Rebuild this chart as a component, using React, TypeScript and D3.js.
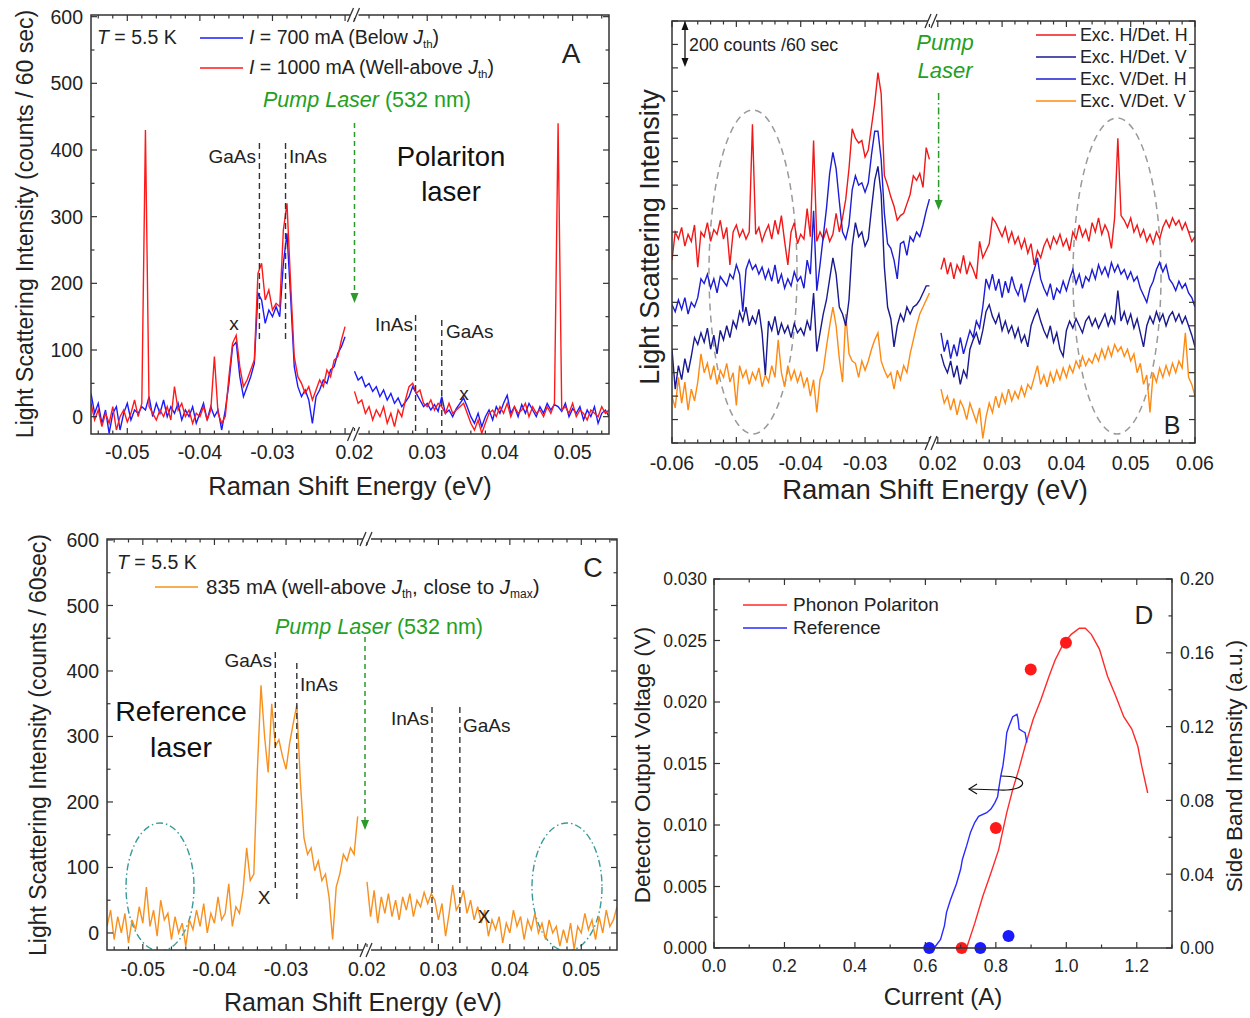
import React from 'react';
import * as d3 from 'd3';

const FONT = '"Liberation Sans", Arial, Helvetica, sans-serif';
const INK = '#222';
const AXIS = '#333';
const STEP = 0.0005; // spectra are sampled every 0.5 meV

// ---------- Panel A: polariton laser (counts / 60 sec) ----------
const aLeftStart = -0.055;
const aRightStart = 0.02;
const aBlueLeft = [
  35, 5, 20, -10, 10, -25, 5, 15, -20, 5,
  20, -5, 10, 5, 15, 10, 30, 0, 20, 5,
  25, 0, 15, 5, 20, -5, 10, 0, 15, -10,
  5, 20, -5, 15, 0, 10, -20, 10, 50, 105,
  112, 60, 30, 45, 60, 80, 185, 175, 140, 160,
  150, 165, 150, 230, 275, 180, 75, 45, 30, 40,
  25, -10, 30, 40, 55, 50, 70, 75, 95, 105,
  120,
];
const aRedLeft = [
  20, -5, 10, -15, 5, -10, 15, -20, 0, 10,
  -8, 5, 25, 0, 20, 430, 15, 5, -5, 10,
  0, 15, -5, 45, 10, 20, 0, 10, -10, 5,
  0, 15, -5, 10, 90, 5, -10, 0, 60, 110,
  122, 75, 45, 55, 70, 85, 215, 230, 175, 190,
  160, 170, 165, 280, 320, 200, 90, 60, 50, 35,
  45, 25, 40, 55, 45, 70, 60, 85, 90, 115,
  135,
];
const aBlueRight = [
  68, 55, 60, 45, 50, 38, 45, 30, 40, 25,
  35, 20, 28, 15, 22, 30, 45, 35, 25, 15,
  20, 10, 18, 8, 30, 5, 10, 0, 12, 20,
  28, 15, 0, -10, 5, -15, 0, 10, -5, 15,
  5, 20, 32, 5, 15, 0, 18, 5, 20, 10,
  0, 15, 5, 20, 10, 18, 15, 8, 20, 0,
  12, 5, 15, -5, 10, 0, 15, -10, 5, 10,
  0,
];
const aRedRight = [
  38, 20, 25, 5, 15, -5, 10, 0, 15, -10,
  5, -15, 10, 0, 25, 45, 50, 35, 40, 20,
  15, 25, 10, 20, 15, 5, 20, 5, 10, 15,
  20, 5, -10, -20, -5, -25, -10, 5, 10, 0,
  15, 5, 20, 0, 15, 5, 10, 20, 0, 15,
  5, 10, 0, 15, 5, 20, 440, 10, 15, 5,
  20, 0, 10, 5, -5, 10, 5, 0, 15, 5,
  10,
];
const aPhononLeft = [-0.0318, -0.0282]; // GaAs, InAs
const aPhononRight = [0.0284, 0.032]; // InAs, GaAs

// ---------- Panel B: polarisation resolved (offset counts) ----------
const bLeftStart = -0.06;
const bRightStart = 0.0205;
const bRedLeft = [
  780, 900, 870, 920, 840, 890, 860, 930, 750, 900,
  880, 940, 860, 910, 890, 950, 870, 920, 760, 900,
  930, 880, 910, 870, 900, 1360, 890, 920, 860, 900,
  930, 870, 950, 890, 970, 860, 760, 900, 940, 850,
  890, 870, 1000, 880, 1290, 860, 900, 870, 910, 860,
  890, 980, 900, 960, 1040, 1170, 1340, 1300, 1280, 1290,
  1220, 1250, 1350, 1450, 1580, 1490, 1140, 1100, 1050, 1010,
  950, 970, 980, 1020, 1060, 1140, 1120, 1150, 1090, 1260,
  1210,
];
const bBlueLeft = [
  590, 560, 610, 570, 620, 550, 600, 580, 620, 700,
  680, 720, 660, 700, 640, 710, 690, 670, 720, 700,
  760, 720, 560, 740, 780, 740, 760, 720, 750, 700,
  740, 690, 760, 680, 720, 660, 700, 670, 730, 690,
  710, 660, 780, 720, 990, 650, 760, 880, 1000, 1150,
  1240, 1170, 1030, 900, 870, 930, 1080, 1140, 1100, 1110,
  1070, 1110, 1230, 1330, 1330, 1210, 980, 850, 830, 780,
  700, 850, 860, 800, 880, 860, 900, 880, 930, 990,
  1040,
];
const bNavyLeft = [
  400, 230, 330, 270, 360, 300, 370, 450, 420, 470,
  430, 490, 400, 460, 380, 480, 440, 500, 450, 520,
  490, 560, 520, 580, 500, 540, 510, 570, 470, 290,
  520, 480, 540, 460, 510, 470, 500, 450, 510, 470,
  490, 460, 520, 480, 640, 390, 470, 550, 610, 700,
  790, 720, 580, 550, 500, 610, 840, 940, 880, 900,
  840, 870, 1000, 1120, 1180, 1060, 750, 580, 530, 410,
  500, 550, 520, 580, 550, 580, 590, 610, 640, 670,
  670,
];
const bOrangeLeft = [
  200, 150, 280, 170, 260, 140, 230, 180, 260, 380,
  300, 340, 270, 330, 250, 310, 280, 340, 260, 300,
  160, 330, 280, 310, 250, 300, 270, 320, 240, 290,
  260, 330, 280, 440, 300, 240, 330, 270, 310, 260,
  300, 240, 280, 200, 270, 130, 270, 310, 410, 500,
  580, 500, 360, 260, 550, 380, 350, 340, 280, 350,
  310, 350, 400, 440, 470, 350, 310, 280, 300, 230,
  310, 270, 330, 300, 380, 440, 500, 550, 580, 610,
  640,
];
const bRedRight = [
  740, 790, 720, 770, 700, 760, 730, 800, 720, 770,
  740, 700, 860, 790, 820, 850, 960, 940, 910, 880,
  920, 860, 900, 850, 880, 830, 870, 810, 850, 760,
  820, 790, 840, 870, 830, 880, 850, 890, 840, 870,
  820, 900, 870, 930, 880, 910, 860, 940, 900, 960,
  890, 930, 900, 830, 960, 1300, 970, 950, 920, 960,
  900, 930, 880, 910, 860, 890, 850, 900, 870, 920,
  950, 920, 960, 930, 950, 910, 940, 900, 860, 880,
];
const bBlueRight = [
  470, 390, 440, 360, 420, 370, 450, 380, 430, 480,
  450, 520, 490, 580, 700, 660, 720, 650, 700, 620,
  690, 640, 710, 660, 630, 680, 600, 650, 700, 740,
  790, 700, 660, 630, 680, 610, 660, 640, 690, 650,
  700, 740, 680, 720, 660, 710, 690, 740, 700, 760,
  720, 750, 710, 770, 730, 760, 720, 740, 700, 730,
  690, 710, 660, 630, 600, 660, 690, 740, 770, 730,
  760, 700, 680, 650, 690, 660, 680, 640, 620, 580,
];
const bNavyRight = [
  380, 330, 300, 350, 280, 330, 250, 310, 280, 400,
  440, 470, 420, 480, 560, 590, 540, 510, 550, 480,
  520, 470, 500, 450, 490, 430, 460, 410, 500, 540,
  570, 520, 480, 450, 500, 430, 470, 400, 370, 480,
  520, 490, 530, 500, 470, 520, 540, 500, 530, 490,
  520, 550, 500, 540, 510, 650, 520, 560, 510, 550,
  490, 530, 470, 410, 500, 540, 510, 560, 520, 550,
  500, 540, 560, 520, 550, 510, 540, 500, 460, 410,
];
const bOrangeRight = [
  230, 170, 200, 140, 190, 120, 180, 150, 100, 170,
  130, 90, 150, 20, 110, 170, 130, 200, 150, 210,
  170, 230, 180, 220, 190, 240, 200, 250, 230, 280,
  330, 250, 290, 240, 300, 260, 310, 270, 320, 280,
  330, 300, 350, 320, 370, 330, 360, 340, 380, 350,
  400, 360, 410, 370, 420, 390, 410, 370, 400, 350,
  380, 300, 340, 250, 290, 130, 300, 260, 320, 280,
  330, 290, 340, 300, 350, 320, 470, 280, 250, 200,
];
const bLegend = ['Exc. H/Det. H', 'Exc. H/Det. V', 'Exc. V/Det. H', 'Exc. V/Det. V'];
const bColors = ['#f01818', '#1a1a90', '#1c1cd6', '#ff8a12'];

// ---------- Panel C: reference laser (counts / 60 sec) ----------
const cLeftStart = -0.055;
const cRightStart = 0.02;
const cOrangeLeft = [
  10, 35, -10, 25, 0, 30, -15, 20, 5, 40,
  15, 70, 10, 35, -5, 50, 20, 30, -10, 25,
  0, 15, -20, 20, 5, 35, 10, 45, 0, 30,
  15, 55, 20, 30, 75, 10, 40, 30, 65, 130,
  80, 90, 250, 378, 300, 245, 350, 285, 295, 270,
  250, 290, 320, 348, 230, 145, 120, 130, 95, 110,
  80, 90, 55, -10, 70, 90, 120, 110, 130, 120,
  178,
];
const cOrangeRight = [
  78, 25, 65, 15, 55, 30, 60, 25, 50, 20,
  55, 35, 60, 25, 50, 40, 62, 45, 60, 50,
  20, 45, -5, 30, 73, 35, 45, 65, 30, 50,
  20, 40, 15, 35, -5, 20, 5, 25, -15, 15,
  0, 35, 10, 25, -10, 20, 5, 30, 0, 15,
  -10, 20, 0, 10, -20, 5, -15, 15, -25, 10,
  0, 30, 5, 20, -10, 25, 0, 35, 10, 20,
  40,
];
const cPhononLeft = [-0.0315, -0.0285];
const cPhononRight = [0.0291, 0.033];

// ---------- Panel D: detector voltage / side band vs current ----------
const dPolCurrent = [0, 0.717, 0.74, 0.763, 0.786, 0.808, 0.831, 0.848, 0.866, 0.883, 0.906, 0.928, 0.951, 0.968, 0.991, 1.014, 1.037, 1.054, 1.071, 1.094, 1.117, 1.14, 1.163, 1.186, 1.203, 1.214, 1.231];
const dPolVolt = [0, 0, 0.002, 0.0042, 0.0061, 0.008, 0.011, 0.0129, 0.0146, 0.0164, 0.0186, 0.0202, 0.0221, 0.0234, 0.0247, 0.0255, 0.026, 0.026, 0.0255, 0.0243, 0.0221, 0.0205, 0.0188, 0.0178, 0.0164, 0.0148, 0.0126];
const dRefCurrent = [0, 0.625, 0.643, 0.654, 0.66, 0.671, 0.688, 0.7, 0.705, 0.717, 0.728, 0.74, 0.751, 0.774, 0.786, 0.797, 0.805, 0.808, 0.814, 0.82, 0.826, 0.831, 0.837, 0.848, 0.86, 0.863, 0.866, 0.877, 0.883, 0.888];
const dRefVolt = [0, 0, 0.0007, 0.0018, 0.0029, 0.0039, 0.0052, 0.0064, 0.0072, 0.0083, 0.0094, 0.0102, 0.0107, 0.011, 0.0113, 0.0118, 0.0123, 0.0129, 0.014, 0.0148, 0.0161, 0.0175, 0.018, 0.0188, 0.019, 0.0186, 0.0178, 0.0176, 0.0175, 0.0167];
const dPolDotI = [0.703, 0.8, 0.899, 0.999];
const dPolDotS = [0, 0.065, 0.151, 0.1655];
const dRefDotI = [0.611, 0.756, 0.836];
const dRefDotS = [0, 0, 0.0065];

type Lin = d3.ScaleLinear<number, number>;

const specPath = (start: number, vals: number[], x: Lin, y: Lin) =>
  d3.line<number>().x((_, i) => x(start + i * STEP)).y((d) => y(d))(vals) ?? '';

const isMajor = (v: number, m: number) => Math.abs(v / m - Math.round(v / m)) < 1e-6;

function Frame({ x0, x1, y0, y1 }: { x0: number; x1: number; y0: number; y1: number }) {
  return <rect x={x0} y={y0} width={x1 - x0} height={y1 - y0} fill="none" stroke={AXIS} strokeWidth={1.5} />;
}

function BreakMark({ x, y }: { x: number; y: number }) {
  return (
    <g>
      <rect x={x - 4} y={y - 3} width={8} height={6} fill="white" />
      <line x1={x - 7} y1={y + 7} x2={x - 1} y2={y - 7} stroke={AXIS} strokeWidth={1.3} />
      <line x1={x - 1} y1={y + 7} x2={x + 5} y2={y - 7} stroke={AXIS} strokeWidth={1.3} />
    </g>
  );
}

function BrokenXTicks(props: {
  xl: Lin; xr: Lin; left: number[]; right: number[]; y0: number; y1: number;
  labelY: number; fs: number; labels: number[];
}) {
  const { xl, xr, left, right, y0, y1, labelY, fs, labels } = props;
  const all: [number, number][] = [...left.map((v) => [v, xl(v)] as [number, number]), ...right.map((v) => [v, xr(v)] as [number, number])];
  return (
    <g>
      {all.map(([v, x], i) => {
        const mj = isMajor(v, 0.01);
        const len = mj ? 6 : 3.5;
        const lab = mj && labels.some((l) => Math.abs(l - v) < 1e-6);
        return (
          <g key={i}>
            <line x1={x} x2={x} y1={y1} y2={y1 - len} stroke={AXIS} strokeWidth={1.2} />
            <line x1={x} x2={x} y1={y0} y2={y0 + len} stroke={AXIS} strokeWidth={1.2} />
            {lab && (
              <text x={x} y={labelY} textAnchor="middle" fontSize={fs} fill={INK}>{v.toFixed(2)}</text>
            )}
          </g>
        );
      })}
    </g>
  );
}

function YTicks(props: {
  y: Lin; values: number[]; x0: number; x1: number; major: number;
  fs?: number; labelX?: number; digits?: number; both?: boolean;
}) {
  const { y, values, x0, x1, major, fs, labelX, digits, both = true } = props;
  return (
    <g>
      {values.map((v, i) => {
        const yy = y(v);
        const mj = isMajor(v, major);
        const len = mj ? 6 : 3.5;
        return (
          <g key={i}>
            <line x1={x0} x2={x0 + len} y1={yy} y2={yy} stroke={AXIS} strokeWidth={1.2} />
            {both && <line x1={x1} x2={x1 - len} y1={yy} y2={yy} stroke={AXIS} strokeWidth={1.2} />}
            {mj && fs && labelX !== undefined && (
              <text x={labelX} y={yy} dy="0.36em" textAnchor="end" fontSize={fs} fill={INK}>
                {digits ? v.toFixed(digits) : String(v)}
              </text>
            )}
          </g>
        );
      })}
    </g>
  );
}

function DownArrow({ x, y1, y2, color, dash }: { x: number; y1: number; y2: number; color: string; dash: string }) {
  return (
    <g>
      <line x1={x} x2={x} y1={y1} y2={y2 - 8} stroke={color} strokeWidth={1.5} strokeDasharray={dash} />
      <polygon points={`${x - 4},${y2 - 10} ${x + 4},${y2 - 10} ${x},${y2}`} fill={color} />
    </g>
  );
}

export default function App() {
  // ----- Panel A scales -----
  const aY = d3.scaleLinear().domain([-26, 602.5]).range([434, 15]);
  const aXl = d3.scaleLinear().domain([-0.055, -0.0187]).range([91, 354.5]);
  const aXr = d3.scaleLinear().domain([0.02, 0.055]).range([354.5, 609]);
  const brokenLeftTicks = d3.range(-27, -9).map((k) => +(k * 0.002).toFixed(3));
  const brokenRightTicks = d3.range(10, 28).map((k) => +(k * 0.002).toFixed(3));
  const countTicks = d3.range(0, 601, 50);
  const xLabels = [-0.05, -0.04, -0.03, 0.02, 0.03, 0.04, 0.05];

  // ----- Panel B scales -----
  const bY = d3.scaleLinear().domain([0, 1800]).range([443, 21]);
  const bXl = d3.scaleLinear().domain([-0.06, -0.0196]).range([672, 932]);
  const bXr = d3.scaleLinear().domain([0.0191, 0.06]).range([932, 1195]);
  const bLeftTicks = d3.range(-30, -9).map((k) => +(k * 0.002).toFixed(3));
  const bRightTicks = d3.range(10, 31).map((k) => +(k * 0.002).toFixed(3));
  const bLabels = [-0.06, -0.05, -0.04, -0.03, 0.02, 0.03, 0.04, 0.05, 0.06];
  const bLeftSeries = [bRedLeft, bNavyLeft, bBlueLeft, bOrangeLeft];
  const bRightSeries = [bRedRight, bNavyRight, bBlueRight, bOrangeRight];

  // ----- Panel C scales -----
  const cY = d3.scaleLinear().domain([-26, 601.5]).range([950, 539]);
  const cXl = d3.scaleLinear().domain([-0.055, -0.0187]).range([107, 367]);
  const cXr = d3.scaleLinear().domain([0.02, 0.055]).range([367, 617]);

  // ----- Panel D scales -----
  const dX = d3.scaleLinear().domain([0, 1.3]).range([714, 1172]);
  const dYl = d3.scaleLinear().domain([0, 0.03]).range([948, 579]);
  const dYr = d3.scaleLinear().domain([0, 0.2]).range([948, 579]);
  const dLine = d3.line<number>();
  const polPath = dLine(dPolCurrent.map((c, i) => [dX(c), dYl(dPolVolt[i])] as [number, number]) as any) ?? '';
  const refPath = dLine(dRefCurrent.map((c, i) => [dX(c), dYl(dRefVolt[i])] as [number, number]) as any) ?? '';

  const green = '#22a022';

  return (
    <svg width={1250} height={1018} style={{ position: 'absolute', left: 0, top: 0, background: 'white' }} fontFamily={FONT}>
      <defs>
        <clipPath id="clipA"><rect x={91} y={15} width={518} height={419} /></clipPath>
        <clipPath id="clipB"><rect x={672} y={21} width={523} height={422} /></clipPath>
        <clipPath id="clipC"><rect x={107} y={539} width={510} height={411} /></clipPath>
        <clipPath id="clipD"><rect x={714} y={579} width={458} height={369} /></clipPath>
      </defs>

      {/* ================= Panel A ================= */}
      <g clipPath="url(#clipA)">
        <path d={specPath(aLeftStart, aBlueLeft, aXl, aY)} fill="none" stroke="#1a1aff" strokeWidth={1.4} />
        <path d={specPath(aRightStart, aBlueRight, aXr, aY)} fill="none" stroke="#1a1aff" strokeWidth={1.4} />
        <path d={specPath(aLeftStart, aRedLeft, aXl, aY)} fill="none" stroke="#ff1a1a" strokeWidth={1.4} />
        <path d={specPath(aRightStart, aRedRight, aXr, aY)} fill="none" stroke="#ff1a1a" strokeWidth={1.4} />
      </g>
      {aPhononLeft.map((v, i) => (
        <line key={'apl' + i} x1={aXl(v)} x2={aXl(v)} y1={143} y2={341} stroke="#333" strokeWidth={1.4} strokeDasharray="6,4" />
      ))}
      {aPhononRight.map((v, i) => (
        <line key={'apr' + i} x1={aXr(v)} x2={aXr(v)} y1={i === 0 ? 315 : 320} y2={433} stroke="#333" strokeWidth={1.4} strokeDasharray="6,4" />
      ))}
      <DownArrow x={354.5} y1={123} y2={303} color="#2a9a2a" dash="5,4" />
      <Frame x0={91} x1={609} y0={15} y1={434} />
      <BrokenXTicks xl={aXl} xr={aXr} left={brokenLeftTicks} right={brokenRightTicks} y0={15} y1={434} labelY={459} fs={19.5} labels={xLabels} />
      <YTicks y={aY} values={countTicks} x0={91} x1={609} major={100} fs={19.5} labelX={83} />
      <BreakMark x={354.5} y={15} />
      <BreakMark x={354.5} y={434} />
      <text x={97} y={44} fontSize={19.5} fill={INK}><tspan fontStyle="italic">T</tspan>{' = 5.5 K'}</text>
      <line x1={200} x2={243} y1={38} y2={38} stroke="#1a1aff" strokeWidth={1.6} />
      <text x={249} y={44} fontSize={19.5} fill={INK}>
        <tspan fontStyle="italic">I</tspan>{' = 700 mA (Below '}<tspan fontStyle="italic">J</tspan>
        <tspan fontSize={11.5} dy={4}>th</tspan><tspan dy={-4}>)</tspan>
      </text>
      <line x1={200} x2={243} y1={68} y2={68} stroke="#ff1a1a" strokeWidth={1.6} />
      <text x={249} y={74} fontSize={19.5} fill={INK}>
        <tspan fontStyle="italic">I</tspan>{' = 1000 mA (Well-above '}<tspan fontStyle="italic">J</tspan>
        <tspan fontSize={11.5} dy={4}>th</tspan><tspan dy={-4}>)</tspan>
      </text>
      <text x={571} y={63} fontSize={28} textAnchor="middle" fill={INK}>A</text>
      <text x={367} y={107} fontSize={21.5} textAnchor="middle" fill={green}>
        <tspan fontStyle="italic">Pump Laser</tspan>{' (532 nm)'}
      </text>
      <text x={256} y={163} fontSize={19} textAnchor="end" fill={INK}>GaAs</text>
      <text x={289} y={163} fontSize={19} fill={INK}>InAs</text>
      <text x={234} y={330} fontSize={19} textAnchor="middle" fill={INK}>x</text>
      <text x={413} y={331} fontSize={19} textAnchor="end" fill={INK}>InAs</text>
      <text x={446} y={338} fontSize={19} fill={INK}>GaAs</text>
      <text x={464} y={400} fontSize={19} textAnchor="middle" fill={INK}>x</text>
      <text x={451} y={166} fontSize={27.5} textAnchor="middle" fill="#111">Polariton</text>
      <text x={451} y={201} fontSize={27.5} textAnchor="middle" fill="#111">laser</text>
      <text transform="translate(33,224) rotate(-90)" textAnchor="middle" fontSize={23} fill={INK}>
        Light Scattering Intensity (counts / 60 sec)
      </text>
      <text x={350} y={495} textAnchor="middle" fontSize={25.5} fill={INK}>Raman Shift Energy (eV)</text>

      {/* ================= Panel B ================= */}
      <ellipse cx={753} cy={272} rx={44} ry={162} fill="none" stroke="#9a9a9a" strokeWidth={1.5} strokeDasharray="7,5" />
      <ellipse cx={1117} cy={276} rx={44} ry={158} fill="none" stroke="#9a9a9a" strokeWidth={1.5} strokeDasharray="7,5" />
      <g clipPath="url(#clipB)">
        {[3, 0, 1, 2].map((k) => (
          <g key={'bs' + k}>
            <path d={specPath(bLeftStart, bLeftSeries[k], bXl, bY)} fill="none" stroke={bColors[k]} strokeWidth={1.4} />
            <path d={specPath(bRightStart, bRightSeries[k], bXr, bY)} fill="none" stroke={bColors[k]} strokeWidth={1.4} />
          </g>
        ))}
      </g>
      <g>
        <line x1={938.6} x2={938.6} y1={93} y2={202} stroke="#2a9a2a" strokeWidth={1.5} strokeDasharray="7,3,1.5,3" />
        <polygon points={`934.6,200 942.6,200 938.6,210`} fill="#2a9a2a" />
      </g>
      <Frame x0={672} x1={1195} y0={21} y1={443} />
      <BrokenXTicks xl={bXl} xr={bXr} left={bLeftTicks} right={bRightTicks} y0={21} y1={443} labelY={470} fs={19.5} labels={bLabels} />
      <YTicks y={bY} values={d3.range(0, 1801, 100)} x0={672} x1={1195} major={100} />
      <BreakMark x={932} y={21} />
      <BreakMark x={932} y={443} />
      <line x1={685} x2={685} y1={26} y2={62} stroke="#111" strokeWidth={1.3} />
      <polygon points="681.5,30 688.5,30 685,21" fill="#111" />
      <polygon points="681.5,58 688.5,58 685,67" fill="#111" />
      <text x={689} y={51} fontSize={17.8} fill={INK}>200 counts /60 sec</text>
      <text x={945} y={50} fontSize={22} textAnchor="middle" fontStyle="italic" fill={green}>Pump</text>
      <text x={945} y={78} fontSize={22} textAnchor="middle" fontStyle="italic" fill={green}>Laser</text>
      {bLegend.map((name, i) => (
        <g key={'bl' + i}>
          <line x1={1036} x2={1076} y1={35 + i * 22} y2={35 + i * 22} stroke={bColors[i]} strokeWidth={1.6} />
          <text x={1080} y={41 + i * 22} fontSize={17.8} fill={INK}>{name}</text>
        </g>
      ))}
      <text x={1172} y={434} fontSize={25} textAnchor="middle" fill={INK}>B</text>
      <text transform="translate(659,237) rotate(-90)" textAnchor="middle" fontSize={27} fill={INK}>
        Light Scattering Intensity
      </text>
      <text x={935} y={499} textAnchor="middle" fontSize={27.5} fill={INK}>Raman Shift Energy (eV)</text>

      {/* ================= Panel C ================= */}
      <g clipPath="url(#clipC)">
        <ellipse cx={160} cy={887} rx={34} ry={64} fill="none" stroke="#3a9a9a" strokeWidth={1.4} strokeDasharray="7,3,1.5,3" />
        <ellipse cx={567} cy={887} rx={35} ry={64} fill="none" stroke="#3a9a9a" strokeWidth={1.4} strokeDasharray="7,3,1.5,3" />
        <path d={specPath(cLeftStart, cOrangeLeft, cXl, cY)} fill="none" stroke="#f7901e" strokeWidth={1.4} />
        <path d={specPath(cRightStart, cOrangeRight, cXr, cY)} fill="none" stroke="#f7901e" strokeWidth={1.4} />
      </g>
      {cPhononLeft.map((v, i) => (
        <line key={'cpl' + i} x1={cXl(v)} x2={cXl(v)} y1={i === 0 ? 652 : 663} y2={i === 0 ? 889 : 899} stroke="#333" strokeWidth={1.4} strokeDasharray="6,4" />
      ))}
      {cPhononRight.map((v, i) => (
        <line key={'cpr' + i} x1={cXr(v)} x2={cXr(v)} y1={707} y2={946} stroke="#333" strokeWidth={1.4} strokeDasharray="6,4" />
      ))}
      <DownArrow x={365} y1={637} y2={830} color="#2a9a2a" dash="5,4" />
      <Frame x0={107} x1={617} y0={539} y1={950} />
      <BrokenXTicks xl={cXl} xr={cXr} left={brokenLeftTicks} right={brokenRightTicks} y0={539} y1={950} labelY={976} fs={19.5} labels={xLabels} />
      <YTicks y={cY} values={countTicks} x0={107} x1={617} major={100} fs={19.5} labelX={99} />
      <BreakMark x={367} y={539} />
      <BreakMark x={367} y={950} />
      <text x={117} y={569} fontSize={19.5} fill={INK}><tspan fontStyle="italic">T</tspan>{' = 5.5 K'}</text>
      <line x1={155} x2={198} y1={587} y2={587} stroke="#f7901e" strokeWidth={1.6} />
      <text x={206} y={594} fontSize={20.5} fill={INK}>
        {'835 mA (well-above '}<tspan fontStyle="italic">J</tspan>
        <tspan fontSize={12} dy={4}>th</tspan><tspan dy={-4}>{', close to '}</tspan><tspan fontStyle="italic">J</tspan>
        <tspan fontSize={12} dy={4}>max</tspan><tspan dy={-4}>)</tspan>
      </text>
      <text x={593} y={577} fontSize={27} textAnchor="middle" fill={INK}>C</text>
      <text x={379} y={634} fontSize={21.5} textAnchor="middle" fill={green}>
        <tspan fontStyle="italic">Pump Laser</tspan>{' (532 nm)'}
      </text>
      <text x={272} y={667} fontSize={19} textAnchor="end" fill={INK}>GaAs</text>
      <text x={300} y={691} fontSize={19} fill={INK}>InAs</text>
      <text x={429} y={725} fontSize={19} textAnchor="end" fill={INK}>InAs</text>
      <text x={463} y={732} fontSize={19} fill={INK}>GaAs</text>
      <text x={264} y={904} fontSize={19} textAnchor="middle" fill={INK}>X</text>
      <text x={484} y={923} fontSize={19} textAnchor="middle" fill={INK}>X</text>
      <text x={181} y={721} fontSize={28.5} textAnchor="middle" fill="#111">Reference</text>
      <text x={181} y={757} fontSize={28.5} textAnchor="middle" fill="#111">laser</text>
      <text transform="translate(46,745) rotate(-90)" textAnchor="middle" fontSize={23} fill={INK}>
        Light Scattering Intensity (counts / 60sec)
      </text>
      <text x={363} y={1011} textAnchor="middle" fontSize={25} fill={INK}>Raman Shift Energy (eV)</text>

      {/* ================= Panel D ================= */}
      <g clipPath="url(#clipD)">
        <path d={polPath} fill="none" stroke="#ff2a2a" strokeWidth={1.4} />
        <path d={refPath} fill="none" stroke="#2a2aff" strokeWidth={1.4} />
      </g>
      {dPolDotI.map((c, i) => (
        <circle key={'dp' + i} cx={dX(c)} cy={dYr(dPolDotS[i])} r={6} fill="#ff1a1a" />
      ))}
      {dRefDotI.map((c, i) => (
        <circle key={'dr' + i} cx={dX(c)} cy={dYr(dRefDotS[i])} r={6} fill="#1a1aff" />
      ))}
      <Frame x0={714} x1={1172} y0={579} y1={948} />
      {d3.range(0, 14).map((k) => {
        const v = k / 10;
        const x = dX(v);
        const mj = k % 2 === 0;
        const len = mj ? 6 : 3.5;
        return (
          <g key={'dxt' + k}>
            <line x1={x} x2={x} y1={948} y2={948 - len} stroke={AXIS} strokeWidth={1.2} />
            <line x1={x} x2={x} y1={579} y2={579 + len} stroke={AXIS} strokeWidth={1.2} />
            {mj && k <= 12 && (
              <text x={x} y={972} textAnchor="middle" fontSize={17.5} fill={INK}>{v.toFixed(1)}</text>
            )}
          </g>
        );
      })}
      <YTicks y={dYl} values={d3.range(0, 13).map((k) => k * 0.0025)} x0={714} x1={1172} major={0.005} fs={17.5} labelX={707} digits={3} both={false} />
      {d3.range(0, 11).map((k) => {
        const v = k * 0.02;
        const y = dYr(v);
        const mj = k % 2 === 0;
        const len = mj ? 6 : 3.5;
        return (
          <g key={'dyr' + k}>
            <line x1={1172} x2={1172 - len} y1={y} y2={y} stroke={AXIS} strokeWidth={1.2} />
            {mj && (
              <text x={1180} y={y} dy="0.36em" fontSize={17.5} fill={INK}>{v.toFixed(2)}</text>
            )}
          </g>
        );
      })}
      <path d="M 1001 776 C 1030 776, 1030 791, 1000 790 L 969 789" fill="none" stroke="#111" strokeWidth={1.2} />
      <path d="M 977 784 L 969 789 L 977 794" fill="none" stroke="#111" strokeWidth={1.2} />
      <line x1={743} x2={787} y1={605} y2={605} stroke="#ff2a2a" strokeWidth={1.6} />
      <text x={793} y={611} fontSize={19} fill={INK}>Phonon Polariton</text>
      <line x1={743} x2={787} y1={628} y2={628} stroke="#2a2aff" strokeWidth={1.6} />
      <text x={793} y={634} fontSize={19} fill={INK}>Reference</text>
      <text x={1144} y={624} fontSize={26} textAnchor="middle" fill={INK}>D</text>
      <text transform="translate(650,765) rotate(-90)" textAnchor="middle" fontSize={22.5} fill={INK}>
        Detector Output Voltage (V)
      </text>
      <text transform="translate(1242,766) rotate(-90)" textAnchor="middle" fontSize={22.5} fill={INK}>
        Side Band Intensity (a.u.)
      </text>
      <text x={943} y={1005} textAnchor="middle" fontSize={24} fill={INK}>Current (A)</text>
    </svg>
  );
}
